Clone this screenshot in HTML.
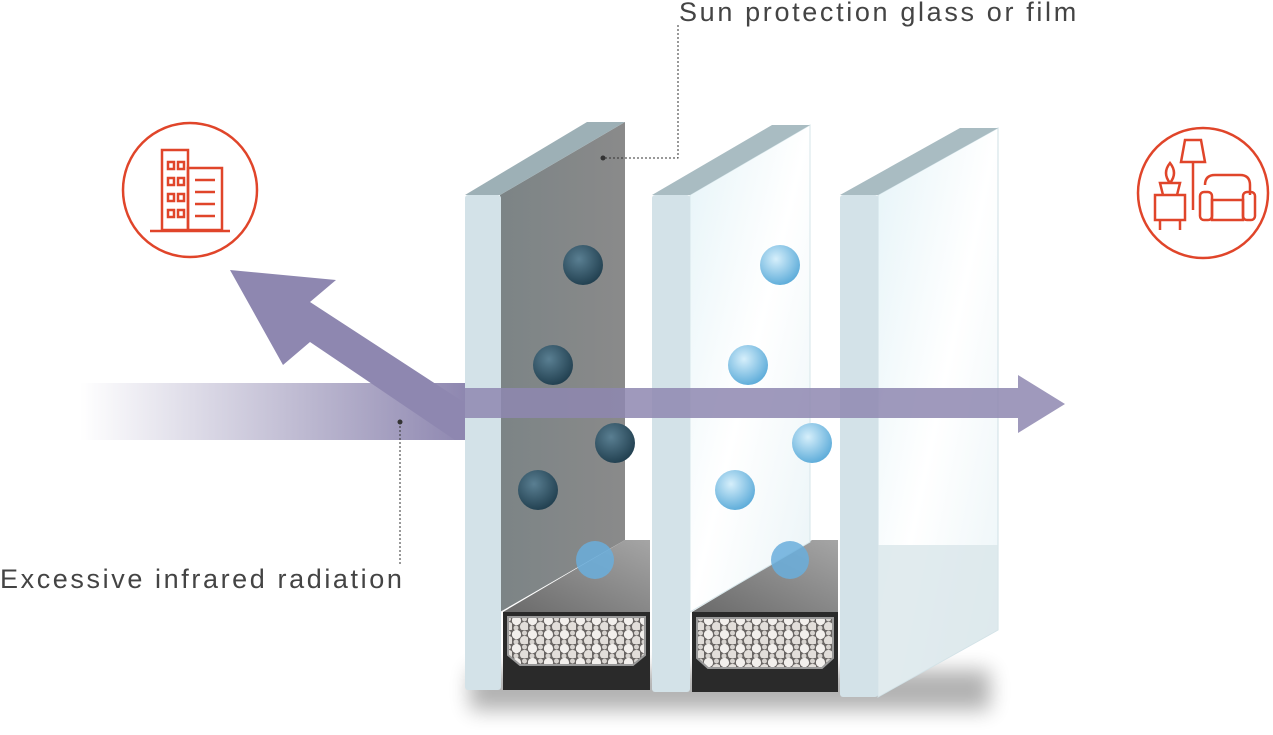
<!DOCTYPE html>
<html><head><meta charset="utf-8"><style>
html,body{margin:0;padding:0;background:#fff;}
body{width:1273px;height:735px;overflow:hidden;position:relative;font-family:"Liberation Sans",sans-serif;}
.t{position:absolute;color:#444;font-weight:normal;white-space:nowrap;}
</style></head><body>
<svg width="1273" height="735" viewBox="0 0 1273 735" style="position:absolute;left:0;top:0">
<defs>
<linearGradient id="band" x1="0" x2="1" y1="0" y2="0">
<stop offset="0" stop-color="#8e87b0" stop-opacity="0"/>
<stop offset="1" stop-color="#8e87b0" stop-opacity="1"/>
</linearGradient>
<linearGradient id="dark" x1="0" x2="1" y1="0" y2="0">
<stop offset="0" stop-color="#7c8486"/><stop offset="1" stop-color="#8a8a8a"/>
</linearGradient>
<linearGradient id="light" x1="0" x2="1" y1="0" y2="1">
<stop offset="0" stop-color="#e6f4f8"/><stop offset="0.5" stop-color="#ffffff"/><stop offset="1" stop-color="#eaf4f7"/>
</linearGradient>
<linearGradient id="spc" x1="0" x2="1" y1="1" y2="0">
<stop offset="0" stop-color="#6a6a6a"/><stop offset="1" stop-color="#a5a5a5"/>
</linearGradient>
<radialGradient id="bd" cx="0.4" cy="0.35" r="0.7">
<stop offset="0" stop-color="#5a7f92"/><stop offset="1" stop-color="#1f3d4d"/>
</radialGradient>
<radialGradient id="bl" cx="0.4" cy="0.35" r="0.7">
<stop offset="0" stop-color="#d6effb"/><stop offset="1" stop-color="#58a9d8"/>
</radialGradient>
<pattern id="beads" width="16" height="14" patternUnits="userSpaceOnUse">
<rect width="16" height="14" fill="#6a6664"/>
<circle cx="4.5" cy="4.5" r="4.6" fill="#f2efec"/><circle cx="12.5" cy="10.5" r="4.6" fill="#e2deda"/>
<circle cx="12.5" cy="3" r="2.5" fill="#d8d4d0"/><circle cx="4" cy="12" r="2.5" fill="#d8d4d0"/>
</pattern>
<filter id="sh" x="-20%" y="-50%" width="140%" height="200%"><feGaussianBlur stdDeviation="10"/></filter>
</defs>

<rect x="470" y="670" width="520" height="40" fill="#000" opacity="0.3" filter="url(#sh)"/>

<polygon points="878,195 998,128 998,630 878,697" fill="url(#light)" stroke="#cfe0e6"/>
<polygon points="878,545 998,545 998,630 878,697" fill="#d9e6ea" opacity="0.8"/>
<polygon points="840,195 960,128 998,128 878,195" fill="#a9bcc2"/>
<rect x="840" y="195" width="38" height="502" rx="3" fill="#d3e2e8"/>

<polygon points="692,612 812,540 838,540 838,612" fill="url(#spc)"/>
<rect x="692" y="612" width="146" height="80" fill="#2a2a2a"/>
<polygon points="697,618 833,618 833,658 822,668 708,668 697,658" fill="url(#beads)" stroke="#9a9a9a" stroke-width="2"/>

<polygon points="690,195 810,125 810,542 690,612" fill="url(#light)" stroke="#d6e6ea"/>
<polygon points="652,195 772,125 810,125 690,195" fill="#a9bcc2"/>
<rect x="652" y="195" width="38" height="497" rx="3" fill="#d3e2e8"/>

<polygon points="503,612 625,540 650,540 650,612" fill="url(#spc)"/>
<rect x="503" y="612" width="147" height="78" fill="#2a2a2a"/>
<polygon points="508,617 645,617 645,655 633,665 520,665 508,655" fill="url(#beads)" stroke="#9a9a9a" stroke-width="2"/>

<polygon points="500,195 625,122 625,540 500,612" fill="url(#dark)"/>
<polygon points="465,195 587,122 625,122 500,195" fill="#9db0b6"/>
<rect x="465" y="195" width="36" height="495" rx="3" fill="#d3e2e8"/>

<g fill="url(#bd)">
<circle cx="583" cy="265" r="20"/><circle cx="553" cy="365" r="20"/><circle cx="615" cy="443" r="20"/><circle cx="538" cy="490" r="20"/>
</g>
<circle cx="595" cy="560" r="19" fill="#6aaedc" opacity="0.85"/>
<g fill="url(#bl)">
<circle cx="780" cy="265" r="20"/><circle cx="748" cy="365" r="20"/><circle cx="812" cy="443" r="20"/><circle cx="735" cy="490" r="20"/>
</g>
<circle cx="790" cy="560" r="19" fill="#6aaedc" opacity="0.85"/>

<rect x="80" y="383" width="385" height="57" fill="url(#band)"/>
<polygon points="465,403 465,440 455,440 310,342 283,365 230,270 336,280 310,302 465,403" fill="#8e87b0"/>
<polygon points="465,388 1018,388 1018,375 1065,404 1018,433 1018,418 465,418" fill="#8e87b0" opacity="0.85"/>

<path d="M678,25 V158 H603" fill="none" stroke="#333" stroke-width="1" stroke-dasharray="2,2"/>
<circle cx="603" cy="158" r="2.5" fill="#333"/>
<path d="M400,422 V565" fill="none" stroke="#333" stroke-width="1" stroke-dasharray="2,2"/>
<circle cx="400" cy="422" r="2.5" fill="#333"/>

<g fill="none" stroke="#e0452a" stroke-width="2.5">
<circle cx="190" cy="190" r="67"/>
<rect x="162" y="150" width="26" height="80"/><rect x="188" y="168" width="34" height="62"/>
<line x1="150" y1="231" x2="230" y2="231"/>
<rect x="168" y="162" width="6" height="7"/><rect x="178" y="162" width="6" height="7"/>
<rect x="168" y="178" width="6" height="7"/><rect x="178" y="178" width="6" height="7"/>
<rect x="168" y="194" width="6" height="7"/><rect x="178" y="194" width="6" height="7"/>
<rect x="168" y="210" width="6" height="7"/><rect x="178" y="210" width="6" height="7"/>
<line x1="195" y1="180" x2="215" y2="180"/><line x1="195" y1="192" x2="215" y2="192"/><line x1="195" y1="204" x2="215" y2="204"/><line x1="195" y1="216" x2="215" y2="216"/>
<circle cx="1203" cy="193" r="65"/>
<rect x="1155" y="195" width="30" height="25"/><line x1="1160" y1="220" x2="1160" y2="230"/><line x1="1180" y1="220" x2="1180" y2="230"/>
<path d="M1163,195 l-3,-12 l20,0 l-3,12 M1170,183 q-8,-10 0,-20 q8,10 0,20"/>
<path d="M1185,140 h16 l4,22 h-24 z"/><line x1="1193" y1="162" x2="1193" y2="210"/>
<path d="M1205,185 q0,-10 10,-10 h25 q10,0 10,10 v10"/>
<rect x="1200" y="192" width="12" height="28" rx="4"/><rect x="1243" y="192" width="12" height="28" rx="4"/>
<rect x="1212" y="200" width="31" height="20"/>
</g>
</svg>
<div class="t" style="left:679px;top:-3px;font-size:27px;letter-spacing:2.65px;">Sun protection glass or film</div>
<div class="t" style="left:0px;top:564px;font-size:27px;letter-spacing:2.6px;">Excessive infrared radiation</div>
</body></html>
